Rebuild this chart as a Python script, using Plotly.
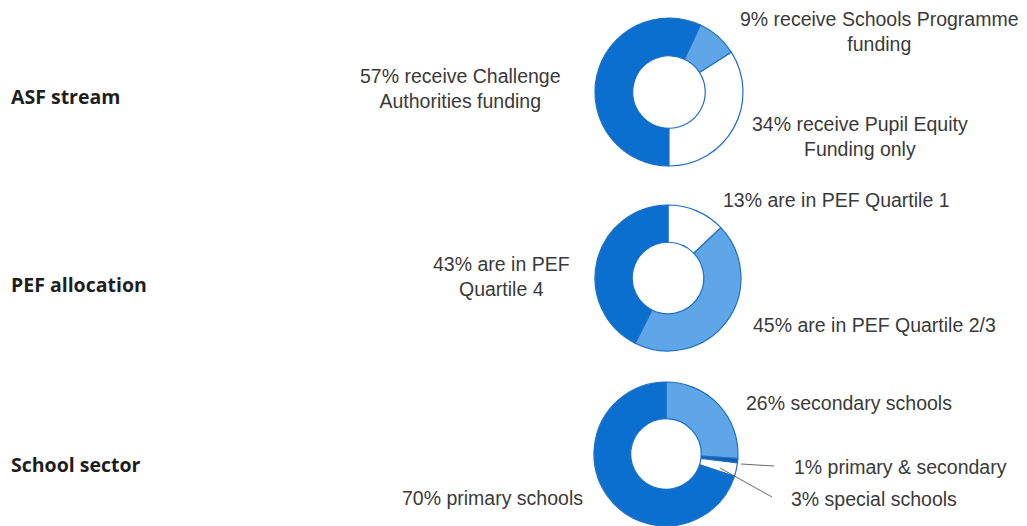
import plotly.graph_objects as go

W, H = 1027, 526

# ---- data ----
asf_labels = ["Challenge Authorities", "Schools Programme", "Pupil Equity Funding only"]
asf_values = [57, 9, 34]

pef_labels = ["PEF Quartile 1", "PEF Quartile 2/3", "PEF Quartile 4"]
pef_values = [13, 45, 43]

sector_labels = ["Secondary schools", "Primary & secondary", "Special schools", "Primary schools"]
sector_values = [26, 1, 3, 70]

row_titles = ["ASF stream", "PEF allocation", "School sector"]

DARK = "#0b6fcf"
DARKER = "#0d5fae"
LIGHT = "#5ea6e7"
WHITE = "#ffffff"
EDGE = "#1f70c4"
TEXT = "#3a3a3a"


def px_x(x):
    return x / W


def px_y(y):
    return 1 - y / H


def dom(x0, x1, y0, y1):
    # pixel box (top-left origin) -> paper domain
    return dict(x=[px_x(x0), px_x(x1)], y=[max(0, px_y(y1)), min(1, px_y(y0))])


def donut(labels, values, colors, rotation, domain):
    return go.Pie(
        labels=labels,
        values=values,
        hole=0.49,
        sort=False,
        direction="clockwise",
        rotation=rotation,
        textinfo="none",
        hoverinfo="label+percent",
        marker=dict(colors=colors, line=dict(color=EDGE, width=1.2)),
        domain=domain,
        showlegend=False,
    )


fig = go.Figure()
fig.add_trace(donut(asf_labels, asf_values, [DARK, LIGHT, WHITE], 180,
                    dom(595, 743, 18, 166)))
fig.add_trace(donut(pef_labels, pef_values, [WHITE, LIGHT, DARK], 0,
                    dom(595, 741, 205, 351)))
fig.add_trace(donut(sector_labels, sector_values, [LIGHT, DARKER, WHITE, DARK], 0,
                    dom(594, 738, 382, 526)))

annotations = []

# row headings
for title, y in zip(row_titles, [97, 284, 464]):
    annotations.append(dict(
        text=f"<b>{title}</b>", x=px_x(9), y=px_y(y), xref="paper", yref="paper",
        xanchor="left", yanchor="middle", showarrow=False,
        font=dict(family="Open Sans", size=19.5, color="#1e1e1e"),
    ))

# slice captions (centre x, centre y in pixels)
captions = [
    (f"{asf_values[1]}% receive Schools Programme<br>funding", 879, 32),
    (f"{asf_values[0]}% receive Challenge<br>Authorities funding", 460, 88),
    (f"{asf_values[2]}% receive Pupil Equity<br>Funding only", 860, 136),
    (f"{pef_values[0]}% are in PEF Quartile 1", 836, 200),
    (f"{pef_values[2]}% are in PEF<br>Quartile 4", 501, 276),
    (f"{pef_values[1]}% are in PEF Quartile 2/3", 874, 325),
    (f"{sector_values[0]}% secondary schools", 849, 403),
    (f"{sector_values[1]}% primary & secondary", 900, 467),
    (f"{sector_values[2]}% special schools", 874, 499),
    (f"{sector_values[3]}% primary schools", 492, 498),
]
for text, cx, cy in captions:
    annotations.append(dict(
        text=text, x=px_x(cx), y=px_y(cy), xref="paper", yref="paper",
        xanchor="center", yanchor="middle", align="center", showarrow=False,
        font=dict(family="Liberation Sans, Arial", size=19.5, color=TEXT),
    ))

# leader lines for the two thin slices
shapes = [
    dict(type="line", xref="paper", yref="paper",
         x0=px_x(741), y0=px_y(464), x1=px_x(774), y1=px_y(466),
         line=dict(color="#6a6a6a", width=1)),
    dict(type="line", xref="paper", yref="paper",
         x0=px_x(720), y0=px_y(468), x1=px_x(772), y1=px_y(497),
         line=dict(color="#6a6a6a", width=1)),
]

fig.update_layout(
    width=W, height=H,
    margin=dict(l=0, r=0, t=0, b=0),
    paper_bgcolor="white",
    plot_bgcolor="white",
    annotations=annotations,
    shapes=shapes,
)

fig.write_html("out.html")
